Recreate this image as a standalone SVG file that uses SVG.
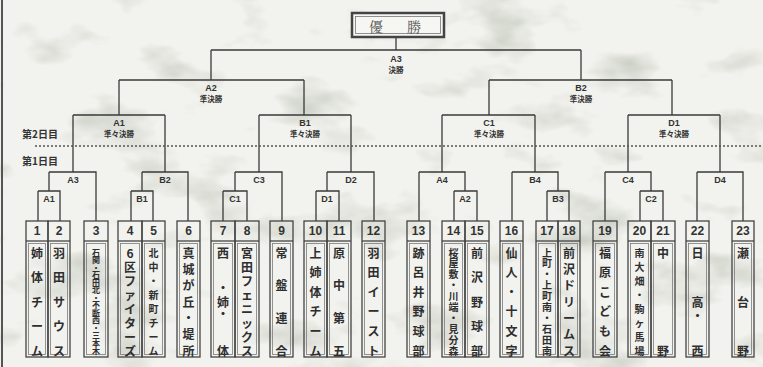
<svg xmlns="http://www.w3.org/2000/svg" width="763" height="367" viewBox="0 0 763 367">
<style>
.ln{fill:none;stroke:#3a3a3a;stroke-width:1.3}
.bx{fill:none;stroke:#444;stroke-width:1.3}
.in{fill:none;stroke:#7a7a7a;stroke-width:0.8}
.lb{font-family:"Liberation Sans","Noto Sans CJK JP",sans-serif;font-size:9px;font-weight:bold;fill:#333;text-anchor:middle;dominant-baseline:central}
.lj{font-family:"Noto Sans CJK JP",sans-serif;font-size:7.5px;font-weight:bold;fill:#333;text-anchor:middle;dominant-baseline:central}
.dy{font-family:"Noto Sans CJK JP",sans-serif;font-size:10px;font-weight:bold;fill:#333;dominant-baseline:central}
.no{font-family:"Liberation Sans",sans-serif;font-size:12px;font-weight:bold;fill:#333;text-anchor:middle;dominant-baseline:central}
.nm{font-family:"Noto Sans CJK JP",sans-serif;font-size:12px;font-weight:bold;fill:#2e2e2e;text-anchor:middle;dominant-baseline:central}
.sm{font-family:"Noto Sans CJK JP",sans-serif;font-size:10px;font-weight:bold;fill:#2e2e2e;text-anchor:middle;dominant-baseline:central}
.xs{font-family:"Noto Sans CJK JP",sans-serif;font-size:8px;font-weight:bold;fill:#2e2e2e;text-anchor:middle;dominant-baseline:central}
.ch{font-family:"Noto Serif CJK JP","Noto Sans CJK JP",serif;font-size:14px;fill:#555;text-anchor:middle;dominant-baseline:central}
</style>
<defs>
<filter id="marble" x="0" y="0" width="100%" height="100%">
<feTurbulence type="fractalNoise" baseFrequency="0.011 0.02" numOctaves="4" seed="7"/>
<feColorMatrix type="matrix" values="0 0 0 0 0.48  0 0 0 0 0.52  0 0 0 0 0.44  -2.6 0 0 0 1.2"/>
</filter>
</defs>
<rect width="763" height="367" fill="#f2f2ee"/>
<rect width="763" height="367" filter="url(#marble)" opacity="0.85"/>
<line x1="2" y1="0" x2="2" y2="367" stroke="#555" stroke-width="2"/>

<g id="connectors">
<path class="ln" d="M396,37V50M211,50H581M211,50V80M581,50V80"/>
<path class="ln" d="M119,80H304M119,80V115M304,80V115M489,80H672M489,80V115M672,80V115"/>
<path class="ln" d="M73,115H165M73,115V172M165,115V172M259,115H351M259,115V172M351,115V172"/>
<path class="ln" d="M442,115H535M442,115V172M535,115V172M628,115H720M628,115V172M720,115V172"/>
<path class="ln" d="M49,172H96V221M49,172V191M38,191H60V221M38,191V221"/>
<path class="ln" d="M142,172H188V221M142,172V191M131,191H153V221M131,191V221"/>
<path class="ln" d="M235,172H282V221M235,172V191M223,191H247V221M223,191V221"/>
<path class="ln" d="M327,172H374V221M327,172V191M316,191H339V221M316,191V221"/>
<path class="ln" d="M419,172H465V191M419,172V221M454,191H477V221M454,191V221"/>
<path class="ln" d="M512,172H558V191M512,172V221M547,191H569V221M547,191V221"/>
<path class="ln" d="M605,172H651V191M605,172V221M640,191H663V221M640,191V221"/>
<path class="ln" d="M697,172H743V221M697,172V221"/>
<line x1="35" y1="146" x2="763" y2="146" stroke="#555" stroke-width="1.5" stroke-dasharray="2 2"/>
</g>

<g id="labels">
<text class="dy" x="22" y="133">第2日目</text>
<text class="dy" x="22" y="160">第1日目</text>
<text class="lb" x="396" y="59">A3</text><text class="lj" x="396" y="69">決勝</text>
<text class="lb" x="211" y="88">A2</text><text class="lj" x="211" y="98">準決勝</text>
<text class="lb" x="581" y="88">B2</text><text class="lj" x="581" y="98">準決勝</text>
<text class="lb" x="119" y="123">A1</text><text class="lj" x="119" y="133">準々決勝</text>
<text class="lb" x="305" y="123">B1</text><text class="lj" x="305" y="133">準々決勝</text>
<text class="lb" x="489" y="123">C1</text><text class="lj" x="489" y="133">準々決勝</text>
<text class="lb" x="674" y="123">D1</text><text class="lj" x="674" y="133">準々決勝</text>
<text class="lb" x="73" y="180">A3</text>
<text class="lb" x="165" y="180">B2</text>
<text class="lb" x="259" y="180">C3</text>
<text class="lb" x="351" y="180">D2</text>
<text class="lb" x="442" y="180">A4</text>
<text class="lb" x="535" y="180">B4</text>
<text class="lb" x="628" y="180">C4</text>
<text class="lb" x="720" y="180">D4</text>
<text class="lb" x="49" y="199">A1</text>
<text class="lb" x="142" y="199">B1</text>
<text class="lb" x="235" y="199">C1</text>
<text class="lb" x="327" y="199">D1</text>
<text class="lb" x="465" y="199">A2</text>
<text class="lb" x="558" y="199">B3</text>
<text class="lb" x="651" y="199">C2</text>
</g>

<g id="champion">
<rect x="352" y="13" width="92" height="24" fill="#f6f6f3" stroke="#444" stroke-width="2.5"/>
<rect x="355.5" y="16.5" width="85" height="17" fill="none" stroke="#777" stroke-width="0.8"/>
<text class="ch" x="376 414" y="25.5">優勝</text>
</g>

<g id="t1"><rect class="bx" x="26" y="221" width="22" height="136"/><rect class="in" x="28.5" y="243.5" width="17" height="111"/><line class="bx" x1="26" y1="241" x2="48" y2="241"/><text class="no" x="37" y="231">1</text><text class="nm" x="37 37 37 37 37" y="252 276.5 301 325.5 350">姉体チーム</text></g>
<g id="t2"><rect class="bx" x="48" y="221" width="22" height="136"/><rect class="in" x="50.5" y="243.5" width="17" height="111"/><line class="bx" x1="48" y1="241" x2="70" y2="241"/><text class="no" x="59" y="231">2</text><text class="nm" x="59 59 59 59 59" y="252 276.5 301 325.5 350">羽田サウス</text></g>
<g id="t3"><rect class="bx" x="84" y="221" width="24" height="136"/><rect class="in" x="86.5" y="243.5" width="19" height="111"/><line class="bx" x1="84" y1="241" x2="108" y2="241"/><text class="no" x="96" y="231">3</text><text class="xs" x="96 96 96 96 96 96 96 96 96 96 96 96 96 96" y="252 259.5 267.1 274.6 282.2 289.7 297.2 304.8 312.3 319.8 327.4 334.9 342.5 350">石関・石田北・不断西・三本木</text></g>
<g id="t4"><rect class="bx" x="118" y="221" width="24" height="136"/><rect class="in" x="120.5" y="243.5" width="19" height="111"/><line class="bx" x1="118" y1="241" x2="142" y2="241"/><text class="no" x="130" y="231">4</text><text class="nm" x="130 130 130 130 130 130 130 130" y="252 266 280 294 308 322 336 350">6区ファイターズ</text></g>
<g id="t5"><rect class="bx" x="142" y="221" width="23" height="136"/><rect class="in" x="144.5" y="243.5" width="18" height="111"/><line class="bx" x1="142" y1="241" x2="165" y2="241"/><text class="no" x="153.5" y="231">5</text><text class="sm" x="153.5 153.5 153.5 153.5 153.5 153.5 153.5 153.5" y="252 266 280 294 308 322 336 350">北中・新町チーム</text></g>
<g id="t6"><rect class="bx" x="177" y="221" width="23" height="136"/><rect class="in" x="179.5" y="243.5" width="18" height="111"/><line class="bx" x1="177" y1="241" x2="200" y2="241"/><text class="no" x="188.5" y="231">6</text><text class="nm" x="188.5 188.5 188.5 188.5 188.5 188.5 188.5" y="252 268.3 284.7 301 317.3 333.7 350">真城が丘・堤所</text></g>
<g id="t7"><rect class="bx" x="211" y="221" width="24" height="136"/><rect class="in" x="213.5" y="243.5" width="19" height="111"/><line class="bx" x1="211" y1="241" x2="235" y2="241"/><text class="no" x="223" y="231">7</text><text class="nm" x="223 223 223 223 223" y="252 287 301 313 350">西・姉・体</text></g>
<g id="t8"><rect class="bx" x="235" y="221" width="24" height="136"/><rect class="in" x="237.5" y="243.5" width="19" height="111"/><line class="bx" x1="235" y1="241" x2="259" y2="241"/><text class="no" x="247" y="231">8</text><text class="nm" x="247 247 247 247 247 247 247 247" y="252 266 280 294 308 322 336 350">宮田フェニックス</text></g>
<g id="t9"><rect class="bx" x="270" y="221" width="23" height="136"/><rect class="in" x="272.5" y="243.5" width="18" height="111"/><line class="bx" x1="270" y1="241" x2="293" y2="241"/><text class="no" x="281.5" y="231">9</text><text class="nm" x="281.5 281.5 281.5 281.5" y="252 284.7 317.3 350">常盤連合</text></g>
<g id="t10"><rect class="bx" x="304" y="221" width="23" height="136"/><rect class="in" x="306.5" y="243.5" width="18" height="111"/><line class="bx" x1="304" y1="241" x2="327" y2="241"/><text class="no" x="315.5" y="231">10</text><text class="nm" x="315.5 315.5 315.5 315.5 315.5 315.5" y="252 271.6 291.2 310.8 330.4 350">上姉体チーム</text></g>
<g id="t11"><rect class="bx" x="327" y="221" width="24" height="136"/><rect class="in" x="329.5" y="243.5" width="19" height="111"/><line class="bx" x1="327" y1="241" x2="351" y2="241"/><text class="no" x="339" y="231">11</text><text class="nm" x="339 339 339 339" y="252 284.7 317.3 350">原中第五</text></g>
<g id="t12"><rect class="bx" x="362" y="221" width="23" height="136"/><rect class="in" x="364.5" y="243.5" width="18" height="111"/><line class="bx" x1="362" y1="241" x2="385" y2="241"/><text class="no" x="373.5" y="231">12</text><text class="nm" x="373.5 373.5 373.5 373.5 373.5 373.5" y="252 271.6 291.2 310.8 330.4 350">羽田イースト</text></g>
<g id="t13"><rect class="bx" x="407" y="221" width="23" height="136"/><rect class="in" x="409.5" y="243.5" width="18" height="111"/><line class="bx" x1="407" y1="241" x2="430" y2="241"/><text class="no" x="418.5" y="231">13</text><text class="nm" x="418.5 418.5 418.5 418.5 418.5 418.5" y="252 271.6 291.2 310.8 330.4 350">跡呂井野球部</text></g>
<g id="t14"><rect class="bx" x="442" y="221" width="23" height="136"/><rect class="in" x="444.5" y="243.5" width="18" height="111"/><line class="bx" x1="442" y1="241" x2="465" y2="241"/><text class="no" x="453.5" y="231">14</text><text class="sm" x="453.5 453.5 453.5 453.5 453.5 453.5 453.5 453.5 453.5 453.5" y="252 262.9 273.8 284.7 295.6 306.4 317.3 328.2 339.1 350">桜屋敷・川端・見分森</text></g>
<g id="t15"><rect class="bx" x="465" y="221" width="24" height="136"/><rect class="in" x="467.5" y="243.5" width="19" height="111"/><line class="bx" x1="465" y1="241" x2="489" y2="241"/><text class="no" x="477" y="231">15</text><text class="nm" x="477 477 477 477 477" y="252 276.5 301 325.5 350">前沢野球部</text></g>
<g id="t16"><rect class="bx" x="500" y="221" width="23" height="136"/><rect class="in" x="502.5" y="243.5" width="18" height="111"/><line class="bx" x1="500" y1="241" x2="523" y2="241"/><text class="no" x="511.5" y="231">16</text><text class="nm" x="511.5 511.5 511.5 511.5 511.5 511.5" y="252 271.6 291.2 310.8 330.4 350">仙人・十文字</text></g>
<g id="t17"><rect class="bx" x="536" y="221" width="22" height="136"/><rect class="in" x="538.5" y="243.5" width="17" height="111"/><line class="bx" x1="536" y1="241" x2="558" y2="241"/><text class="no" x="547" y="231">17</text><text class="sm" x="547 547 547 547 547 547 547 547 547 547" y="252 262.9 273.8 284.7 295.6 306.4 317.3 328.2 339.1 350">上町・上町南・石田南</text></g>
<g id="t18"><rect class="bx" x="558" y="221" width="22" height="136"/><rect class="in" x="560.5" y="243.5" width="17" height="111"/><line class="bx" x1="558" y1="241" x2="580" y2="241"/><text class="no" x="569" y="231">18</text><text class="nm" x="569 569 569 569 569 569 569" y="252 268.3 284.7 301 317.3 333.7 350">前沢ドリームス</text></g>
<g id="t19"><rect class="bx" x="593" y="221" width="24" height="136"/><rect class="in" x="595.5" y="243.5" width="19" height="111"/><line class="bx" x1="593" y1="241" x2="617" y2="241"/><text class="no" x="605" y="231">19</text><text class="nm" x="605 605 605 605 605 605" y="252 271.6 291.2 310.8 330.4 350">福原こども会</text></g>
<g id="t20"><rect class="bx" x="628" y="221" width="23" height="136"/><rect class="in" x="630.5" y="243.5" width="18" height="111"/><line class="bx" x1="628" y1="241" x2="651" y2="241"/><text class="no" x="639.5" y="231">20</text><text class="sm" x="639.5 639.5 639.5 639.5 639.5 639.5 639.5 639.5" y="252 266 280 294 308 322 336 350">南大畑・駒ヶ馬場</text></g>
<g id="t21"><rect class="bx" x="651" y="221" width="24" height="136"/><rect class="in" x="653.5" y="243.5" width="19" height="111"/><line class="bx" x1="651" y1="241" x2="675" y2="241"/><text class="no" x="663" y="231">21</text><text class="nm" x="663 663" y="252 350">中野</text></g>
<g id="t22"><rect class="bx" x="686" y="221" width="23" height="136"/><rect class="in" x="688.5" y="243.5" width="18" height="111"/><line class="bx" x1="686" y1="241" x2="709" y2="241"/><text class="no" x="697.5" y="231">22</text><text class="nm" x="697.5 697.5 697.5 697.5" y="252 301 315 350">日高・西</text></g>
<g id="t23"><rect class="bx" x="732" y="221" width="22" height="136"/><rect class="in" x="734.5" y="243.5" width="17" height="111"/><line class="bx" x1="732" y1="241" x2="754" y2="241"/><text class="no" x="743" y="231">23</text><text class="nm" x="743 743 743" y="252 301 350">瀬台野</text></g>
</svg>
